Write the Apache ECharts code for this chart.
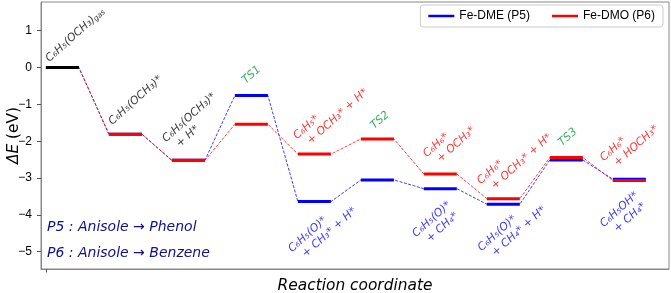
<!DOCTYPE html>
<html>
<head>
<meta charset="utf-8">
<script src="https://cdn.jsdelivr.net/npm/echarts@6/dist/echarts.min.js"></script>
<style>
  html, body { margin: 0; padding: 0; background: #fff; }
  #chart { width: 671px; height: 293px; }
</style>
</head>
<body>
<div id="chart"></div>
<script>
// reaction steps (slot index along the reaction coordinate)
const steps = [0, 1, 2, 3, 4, 5, 6, 7, 8, 9];
const energyP5 = [0, -1.81, -2.52, -0.76, -3.64, -3.05, -3.29, -3.71, -2.51, -3.03];
const energyP6 = [0, -1.81, -2.52, -1.54, -2.35, -1.94, -2.89, -3.56, -2.44, -3.07];
const yTicks = [-5, -4, -3, -2, -1, 0, 1];
const seriesNames = ['Fe-DME (P5)', 'Fe-DMO (P6)'];
const noteLines = ['P5 : Anisole → Phenol', 'P6 : Anisole → Benzene'];

// species labels, anchored (bottom-left) in data units
const annotations = [
  { text: 'C₆H₅(OCH₃)', x: -0.17, y: 0.07, color: '#000' },
  { text: 'gas', x: 0.58, y: 1.16, color: '#000', small: true },
  { text: 'C₆H₅(OCH₃)*', x: 0.83, y: -1.64, color: '#000' },
  { text: 'C₆H₅(OCH₃)*\n  + H*', x: 1.82, y: -2.37, color: '#000' },
  { text: 'TS1', x: 2.95, y: -0.52, color: '#0a9a3a' },
  { text: 'C₆H₅*\n  + OCH₃* + H*', x: 3.9, y: -2.29, color: '#ff0000' },
  { text: 'TS2', x: 4.99, y: -1.75, color: '#0a9a3a' },
  { text: 'C₆H₆*\n  + OCH₃*', x: 5.96, y: -2.78, color: '#ff0000' },
  { text: 'C₆H₆*\n  + OCH₃* + H*', x: 6.82, y: -3.51, color: '#ff0000' },
  { text: 'TS3', x: 7.97, y: -2.21, color: '#0a9a3a' },
  { text: 'C₆H₆*\n  + HOCH₃*', x: 8.77, y: -2.89, color: '#ff0000' },
  { text: 'C₆H₅(O)*\n  + CH₃* + H*', x: 3.82, y: -5.36, color: '#0000ff' },
  { text: 'C₆H₅(O)*\n  + CH₄*', x: 5.79, y: -4.95, color: '#0000ff' },
  { text: 'C₆H₅(O)*\n  + CH₄* + H*', x: 6.83, y: -5.33, color: '#0000ff' },
  { text: 'C₆H₅OH*\n  + CH₄*', x: 8.77, y: -4.68, color: '#0000ff' }
];

const halfW = 0.262;
const font = 'DejaVu Sans';

// path through both ends of every level, drawn dashed
function connectorPath(energy) {
  const pts = [];
  steps.forEach((s, i) => { pts.push([s - halfW, energy[i]], [s + halfW, energy[i]]); });
  return pts;
}

function renderLevel(params, api) {
  const x = api.value(0), y = api.value(1);
  const a = api.coord([x - halfW, y]);
  const b = api.coord([x + halfW, y]);
  return {
    type: 'line',
    shape: { x1: a[0], y1: a[1], x2: b[0], y2: b[1] },
    style: { stroke: api.visual('color'), lineWidth: 3 }
  };
}

const levelData = (energy) => steps.slice(1).map((s, i) => [s, energy[i + 1]]);

const chart = echarts.init(document.getElementById('chart'), null, { renderer: 'canvas' });

const option = {
  animation: false,
  grid: {
    left: 41, right: 2, top: 2, bottom: 24, outerBoundsMode: 'none', containLabel: false,
    show: true, borderColor: '#888', borderWidth: 1
  },
  legend: {
    data: seriesNames,
    right: 8, top: 5,
    icon: 'rect', itemWidth: 26, itemHeight: 2.5, itemGap: 22,
    padding: [5, 8],
    backgroundColor: 'rgba(255,255,255,0.8)',
    borderColor: '#ccc', borderWidth: 1, borderRadius: 3,
    textStyle: { fontFamily: 'Liberation Sans', fontSize: 12, color: '#000' }
  },
  xAxis: {
    type: 'value', min: -0.34, max: 9.63,
    name: 'Reaction coordinate', nameLocation: 'middle', nameGap: 9,
    nameTextStyle: { fontFamily: font, fontStyle: 'italic', fontSize: 15.4, color: '#000' },
    axisLine: { onZero: false, lineStyle: { color: '#888' } },
    axisTick: { customValues: [steps[0] - halfW], length: 3.5, lineStyle: { color: '#555' } },
    axisLabel: { show: false },
    splitLine: { show: false }
  },
  yAxis: {
    type: 'value', min: -5.47, max: 1.78,
    name: '{i|ΔE} (eV)', nameLocation: 'middle', nameGap: 20, nameMoveOverlap: false,
    nameTextStyle: {
      fontFamily: font, fontSize: 15.4, color: '#000',
      rich: { i: { fontFamily: font, fontSize: 15.4, fontStyle: 'italic', color: '#000' } }
    },
    axisLine: { show: true, onZero: false, lineStyle: { color: '#888' } },
    axisTick: { show: true, customValues: yTicks, length: 4, lineStyle: { color: '#555' } },
    axisLabel: {
      customValues: yTicks, margin: 9,
      fontFamily: 'Liberation Sans', fontSize: 12, color: '#000',
      formatter: (v) => String(v).replace('-', '\u2212')
    },
    splitLine: { show: false }
  },
  graphic: noteLines.map((t, i) => ({
    type: 'text', left: 47, top: 220 + i * 26,
    style: { text: t, fill: '#10108f', font: 'italic 14px "DejaVu Sans"' }
  })),
  series: [
    {
      name: 'P5 path', type: 'line', z: 1, data: connectorPath(energyP5),
      showSymbol: false, silent: true, color: '#0000ff',
      lineStyle: { width: 0.9, type: [3, 1.5], opacity: 0.85 }
    },
    {
      name: seriesNames[0], type: 'custom', z: 2, data: levelData(energyP5),
      itemStyle: { color: '#0000ff' }, renderItem: renderLevel, silent: true
    },
    {
      name: 'P6 path', type: 'line', z: 3, data: connectorPath(energyP6),
      showSymbol: false, silent: true, color: '#ff0000',
      lineStyle: { width: 0.9, type: [3, 1.5], opacity: 0.85 }
    },
    {
      name: seriesNames[1], type: 'custom', z: 4, data: levelData(energyP6),
      itemStyle: { color: '#ff0000' }, renderItem: renderLevel, silent: true
    },
    {
      name: 'start', type: 'custom', z: 5, data: [[steps[0], energyP6[0]]],
      itemStyle: { color: '#000' }, renderItem: renderLevel, silent: true
    },
    {
      name: 'labels', type: 'scatter', z: 6, symbolSize: 0, silent: true,
      data: annotations.map((a) => ({
        value: [a.x, a.y],
        label: { formatter: a.text, color: a.color, fontSize: a.small ? 7.5 : 11 }
      })),
      label: {
        show: true, position: [0, 0], align: 'left', verticalAlign: 'bottom', rotate: 42,
        fontFamily: font, fontStyle: 'italic', fontSize: 11, lineHeight: 13
      }
    }
  ]
};

chart.setOption(option);
</script>
</body>
</html>
